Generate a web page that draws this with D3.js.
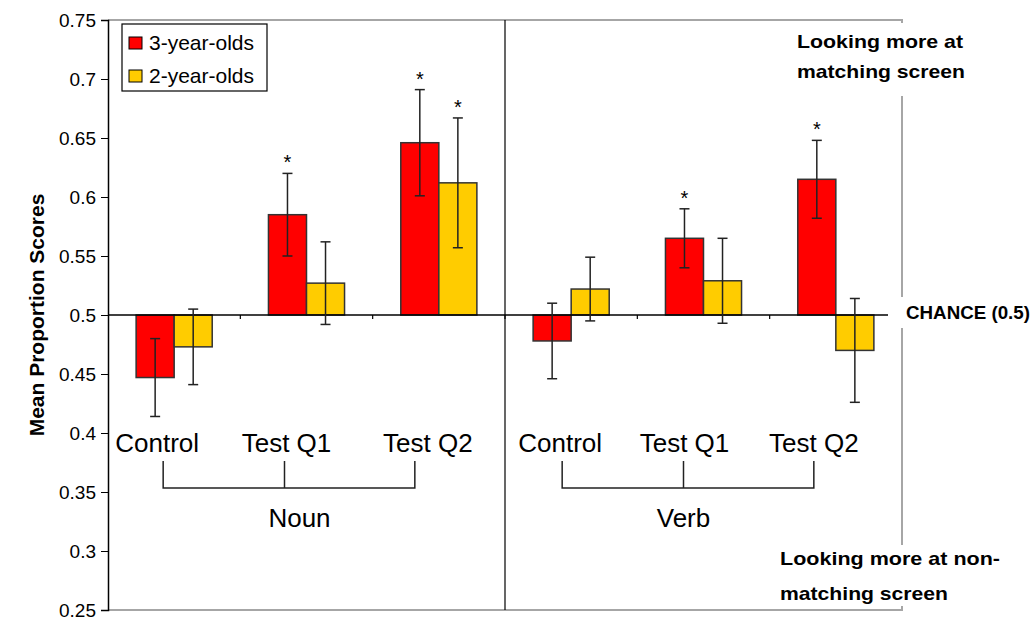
<!DOCTYPE html>
<html>
<head>
<meta charset="utf-8">
<script src="https://cdn.jsdelivr.net/npm/d3@7"></script>
<style>
  body { margin: 0; background: #fff; }
  svg { font-family: 'Liberation Sans', Arial, sans-serif; }
</style>
</head>
<body>
<svg id="chart" width="1035" height="620"></svg>
<script>
var groups = ['Noun', 'Verb']
var conditions = ['Control', 'Test Q1', 'Test Q2']
var series = ['3-year-olds', '2-year-olds']
var colors = ['#ff0000', '#ffcc00']

var means3 = [0.447, 0.585, 0.646, 0.478, 0.565, 0.615]
var err3 = [0.033, 0.035, 0.045, 0.032, 0.025, 0.033]
var sig3 = [false, true, true, false, true, true]

var means2 = [0.473, 0.527, 0.612, 0.522, 0.529, 0.470]
var err2 = [0.032, 0.035, 0.055, 0.027, 0.036, 0.044]
var sig2 = [false, false, true, false, false, false]

var yTicks = [0.25, 0.3, 0.35, 0.4, 0.45, 0.5, 0.55, 0.6, 0.65, 0.7, 0.75]
var yTickLabels = ['0.25', '0.3', '0.35', '0.4', '0.45', '0.5', '0.55', '0.6', '0.65', '0.7', '0.75']

// hand placed text in the original, shift from the band centre (px)
const labelShift = [-17, -20, -11, -11, -19, -22]
const bracketShift = [-11, -22, -24, -9, -20, -22]

const plotLeft = 108
const plotRight = 902
const plotTop = 20
const plotBottom = 610
const chance = 0.5

var svg = d3.select('#chart')

var cats = []
groups.forEach(g => conditions.forEach(c => cats.push(g + ' ' + c)))

var x = d3.scaleBand().domain(cats).range([plotLeft, plotRight]).paddingInner(0.425).paddingOuter(0.2125)
var xs = d3.scaleBand().domain(series).range([0, x.bandwidth()])
var y = d3.scaleLinear().domain([0.25, 0.75]).range([plotBottom, plotTop])

var bars = []
cats.forEach((c, i) => {
  bars.push({ cat: c, s: series[0], v: means3[i], e: err3[i], sig: sig3[i], color: colors[0] })
  bars.push({ cat: c, s: series[1], v: means2[i], e: err2[i], sig: sig2[i], color: colors[1] })
})

// plot frame (grey)
svg.append('path')
   .attr('d', 'M' + plotLeft + ',' + plotTop + 'H' + plotRight + 'V' + plotBottom + 'H' + plotLeft)
   .attr('fill', 'none')
   .attr('stroke', '#a6a6a6')
   .attr('stroke-width', 2)

// bars
svg.append('g')
   .selectAll('rect')
   .data(bars)
   .join('rect')
   .attr('x', d => x(d.cat) + xs(d.s))
   .attr('width', xs.bandwidth())
   .attr('y', d => Math.min(y(d.v), y(chance)))
   .attr('height', d => Math.abs(y(d.v) - y(chance)))
   .attr('fill', d => d.color)
   .attr('stroke', '#333')
   .attr('stroke-width', 1.5)

// chance axis
var step = x.step()
var xAxis = svg.append('g')
xAxis.append('line')
     .attr('x1', plotLeft).attr('x2', plotRight)
     .attr('y1', y(chance)).attr('y2', y(chance))
     .attr('stroke', '#000').attr('stroke-width', 1.5)
xAxis.selectAll('line.tick')
     .data(cats.slice(1))
     .join('line')
     .attr('class', 'tick')
     .attr('x1', d => x(d) - step * 0.2125).attr('x2', d => x(d) - step * 0.2125)
     .attr('y1', y(chance)).attr('y2', y(chance) + 4)
     .attr('stroke', '#000').attr('stroke-width', 1.2)

// error bars
var eb = svg.append('g').attr('stroke', '#222').attr('stroke-width', 1.5)
bars.forEach(d => {
  var cx = x(d.cat) + xs(d.s) + xs.bandwidth() / 2
  eb.append('line').attr('x1', cx).attr('x2', cx).attr('y1', y(d.v + d.e)).attr('y2', y(d.v - d.e))
  eb.append('line').attr('x1', cx - 5).attr('x2', cx + 5).attr('y1', y(d.v + d.e)).attr('y2', y(d.v + d.e))
  eb.append('line').attr('x1', cx - 5).attr('x2', cx + 5).attr('y1', y(d.v - d.e)).attr('y2', y(d.v - d.e))
  if (d.sig) {
    svg.append('text')
       .attr('x', cx).attr('y', y(d.v + d.e) - 4)
       .attr('text-anchor', 'middle')
       .attr('font-size', 20)
       .text('*')
  }
})

// group divider
svg.append('line')
   .attr('x1', x(cats[3]) - step * 0.2125).attr('x2', x(cats[3]) - step * 0.2125)
   .attr('y1', plotTop).attr('y2', plotBottom)
   .attr('stroke', '#000').attr('stroke-width', 1.2)

// y axis
var yAxis = svg.append('g')
               .attr('transform', 'translate(' + plotLeft + ',0)')
               .call(d3.axisLeft(y).tickValues(yTicks).tickSize(7).tickPadding(5)
                       .tickFormat((d, i) => yTickLabels[i]))
yAxis.select('.domain').attr('stroke-width', 1.5)
yAxis.selectAll('text').attr('font-size', 19).attr('font-family', 'Liberation Sans, Arial, sans-serif').attr('fill', '#000')

svg.append('text')
   .attr('transform', 'translate(44,' + y(chance) + ') rotate(-90)')
   .attr('text-anchor', 'middle')
   .attr('font-size', 21)
   .attr('font-weight', 'bold')
   .text('Mean Proportion Scores')

// condition labels and brackets
cats.forEach((c, i) => {
  svg.append('text')
     .attr('x', x(c) + x.bandwidth() / 2 + labelShift[i])
     .attr('y', 452)
     .attr('text-anchor', 'middle')
     .attr('font-size', 26)
     .text(conditions[i % 3])
})

groups.forEach((g, gi) => {
  var xsPos = [0, 1, 2].map(k => x(cats[gi * 3 + k]) + x.bandwidth() / 2 + bracketShift[gi * 3 + k])
  var br = svg.append('g').attr('stroke', '#222').attr('stroke-width', 1.5).attr('fill', 'none')
  br.append('path')
    .attr('d', 'M' + xsPos[0] + ',461V488H' + xsPos[2] + 'V461')
  br.append('line')
    .attr('x1', xsPos[1]).attr('x2', xsPos[1]).attr('y1', 461).attr('y2', 488)
  svg.append('text')
     .attr('x', xsPos[1] + (gi === 0 ? 15 : 0))
     .attr('y', 527)
     .attr('text-anchor', 'middle')
     .attr('font-size', 26)
     .text(g)
})

// legend
var legend = svg.append('g')
legend.append('rect')
      .attr('x', 122).attr('y', 24).attr('width', 145).attr('height', 67)
      .attr('fill', '#fff').attr('stroke', '#000').attr('stroke-width', 1.2)
series.forEach((s, i) => {
  legend.append('rect')
        .attr('x', 129).attr('y', 37 + i * 33).attr('width', 13).attr('height', 12)
        .attr('fill', colors[i]).attr('stroke', '#000').attr('stroke-width', 1)
  legend.append('text')
        .attr('x', 149).attr('y', 50 + i * 33)
        .attr('font-size', 21)
        .text(s)
})

// side notes, widths
var notes = [
  { box: [785, 23, 230, 73], x: 797, lines: ['Looking more at', 'matching screen'], w: [166, 168], y: [48, 78] },
  { box: [888, 297, 147, 31], x: 906, lines: ['CHANCE (0.5)'], w: [124], y: [319] },
  { box: [776, 545, 240, 61], x: 780, lines: ['Looking more at non-', 'matching screen'], w: [220, 168], y: [565, 600] }
]
notes.forEach(n => {
  svg.append('rect')
     .attr('x', n.box[0]).attr('y', n.box[1]).attr('width', n.box[2]).attr('height', n.box[3])
     .attr('fill', '#fff')
  n.lines.forEach((t, i) => {
    svg.append('text')
       .attr('x', n.x).attr('y', n.y[i])
       .attr('font-size', 19)
       .attr('font-weight', 'bold')
       .attr('textLength', n.w[i])
       .attr('lengthAdjust', 'spacingAndGlyphs')
       .text(t)
  })
})
</script>
</body>
</html>
